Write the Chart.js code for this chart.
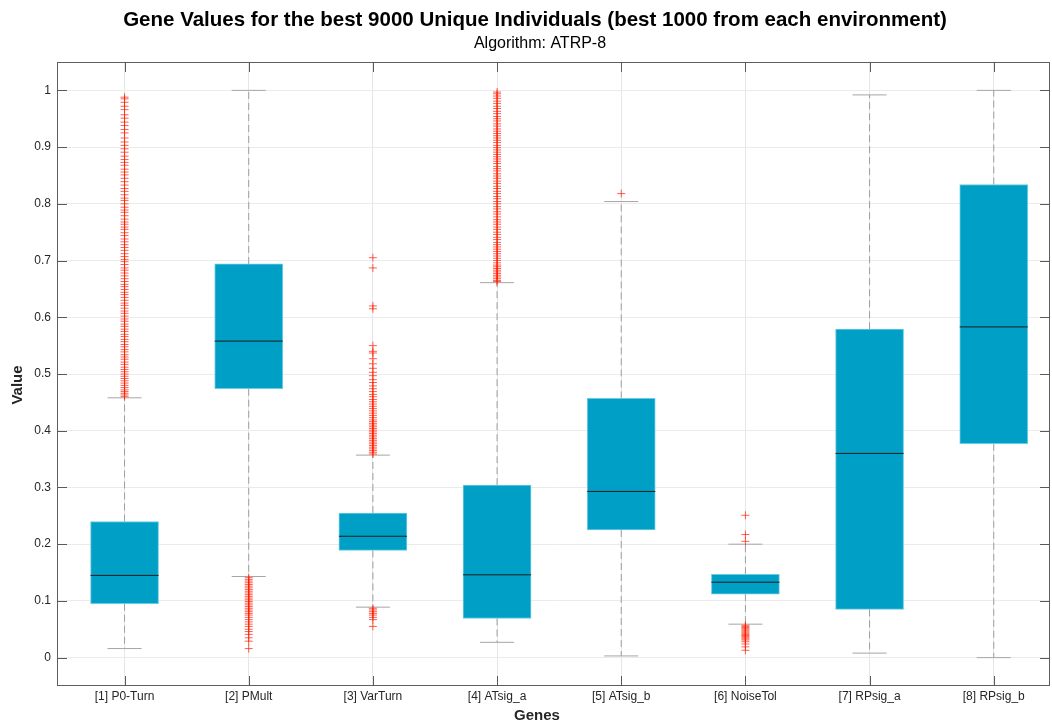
<!DOCTYPE html>
<html>
<head>
<meta charset="utf-8">
<script src="https://cdn.jsdelivr.net/npm/chart.js@4.4.0/dist/chart.umd.min.js"></script>
<style>
  html, body { margin: 0; padding: 0; background: #ffffff; }
  #wrap { width: 1052px; height: 724px; }
</style>
</head>
<body>
<div id="wrap"><canvas id="chart" width="1052" height="724"></canvas></div>
<script>
// ---- chart text ----
const titleText = 'Gene Values for the best 9000 Unique Individuals (best 1000 from each environment)';
const subtitleText = 'Algorithm: ATRP-8';
const xTitle = 'Genes';
const yTitle = 'Value';

// ---- categories ----
const genes = ['[1] P0-Turn', '[2] PMult', '[3] VarTurn', '[4] ATsig_a',
               '[5] ATsig_b', '[6] NoiseTol', '[7] RPsig_a', '[8] RPsig_b'];

// ---- box statistics per gene ----
const q1      = [0.095, 0.474, 0.189, 0.069, 0.225, 0.112, 0.085, 0.377];
const median  = [0.145, 0.558, 0.214, 0.146, 0.293, 0.133, 0.360, 0.583];
const q3      = [0.240, 0.694, 0.255, 0.304, 0.457, 0.147, 0.579, 0.834];
const whiskLo = [0.016, 0.143, 0.089, 0.027, 0.003, 0.059, 0.008, 0.000];
const whiskHi = [0.458, 1.000, 0.357, 0.661, 0.804, 0.200, 0.992, 1.000];

// ---- outliers per gene ----
const outP0Turn = [0.988, 0.985, 0.979, 0.972, 0.966, 0.957, 0.951, 0.944, 0.938, 0.931,
  0.925, 0.916, 0.909, 0.903, 0.897, 0.891, 0.884, 0.878, 0.873, 0.868, 0.861, 0.856,
  0.851, 0.845, 0.839, 0.833, 0.827, 0.822, 0.816, 0.81, 0.806, 0.8, 0.794, 0.789,
  0.785, 0.779, 0.773, 0.768, 0.764, 0.759, 0.755, 0.749, 0.744, 0.738, 0.733, 0.728,
  0.723, 0.718, 0.712, 0.707, 0.702, 0.698, 0.693, 0.687, 0.683, 0.678, 0.673, 0.668,
  0.663, 0.658, 0.654, 0.649, 0.644, 0.64, 0.635, 0.63, 0.625, 0.621, 0.616, 0.611,
  0.607, 0.602, 0.597, 0.593, 0.588, 0.584, 0.579, 0.575, 0.57, 0.566, 0.561, 0.557,
  0.552, 0.548, 0.543, 0.539, 0.534, 0.53, 0.526, 0.521, 0.517, 0.512, 0.508, 0.504,
  0.5, 0.496, 0.492, 0.488, 0.484, 0.48, 0.476, 0.472, 0.469, 0.466, 0.463, 0.46];
const outPMult = [0.141, 0.138, 0.135, 0.132, 0.129, 0.126, 0.123, 0.12, 0.117, 0.114,
  0.111, 0.108, 0.105, 0.102, 0.099, 0.096, 0.093, 0.09, 0.087, 0.084, 0.081, 0.078,
  0.075, 0.071, 0.067, 0.063, 0.059, 0.055, 0.05, 0.046, 0.041, 0.035, 0.029, 0.016];
const outVarTurn = [0.705, 0.687, 0.62, 0.615, 0.55, 0.54, 0.537, 0.527, 0.518, 0.51,
  0.503, 0.497, 0.49, 0.485, 0.479, 0.474, 0.469, 0.464, 0.46, 0.455, 0.451, 0.447,
  0.443, 0.439, 0.435, 0.431, 0.427, 0.423, 0.419, 0.416, 0.413, 0.41, 0.407, 0.404,
  0.401, 0.398, 0.395, 0.392, 0.389, 0.386, 0.383, 0.38, 0.377, 0.374, 0.371, 0.368,
  0.365, 0.362, 0.359,
  0.087, 0.084, 0.081, 0.078, 0.075, 0.071, 0.067, 0.055];
const outATsigA = [0.997, 0.994, 0.99, 0.986, 0.981, 0.977, 0.972, 0.968, 0.963, 0.959,
  0.954, 0.95, 0.946, 0.941, 0.937, 0.932, 0.928, 0.924, 0.92, 0.916, 0.912, 0.908,
  0.903, 0.899, 0.895, 0.891, 0.887, 0.883, 0.879, 0.875, 0.871, 0.866, 0.862, 0.858,
  0.853, 0.849, 0.845, 0.84, 0.836, 0.831, 0.827, 0.822, 0.818, 0.813, 0.809, 0.804,
  0.8, 0.795, 0.791, 0.786, 0.782, 0.777, 0.772, 0.768, 0.764, 0.759, 0.755, 0.75,
  0.746, 0.741, 0.737, 0.732, 0.728, 0.724, 0.72, 0.716, 0.712, 0.708, 0.704, 0.7,
  0.696, 0.692, 0.689, 0.686, 0.683, 0.68, 0.677, 0.674, 0.671, 0.668, 0.665, 0.663];
const outATsigB = [0.818];
const outNoiseTol = [0.251, 0.217, 0.205,
  0.057, 0.055, 0.053, 0.051, 0.049, 0.047, 0.045, 0.043, 0.041, 0.039, 0.037, 0.035,
  0.033, 0.031, 0.028, 0.024, 0.019, 0.013];
const outRPsigA = [];
const outRPsigB = [];
const outliers = [outP0Turn, outPMult, outVarTurn, outATsigA, outATsigB, outNoiseTol, outRPsigA, outRPsigB];

// ---- axis ticks ----
const yTicks = [0, 0.1, 0.2, 0.3, 0.4, 0.5, 0.6, 0.7, 0.8, 0.9, 1];
const yRange = [-0.05, 1.05];
const xRange = [0.456, 8.453];

const FONT = '"Liberation Sans", Arial, Helvetica, sans-serif';

// ---- datasets ----
const boxData = genes.map((g, i) => ({ x: i + 1, y: [q1[i], q3[i]] }));
const medianData = genes.map((g, i) => ({ x: i + 1, y: median[i] }));
const capData = [];
const whiskerData = [];
genes.forEach((g, i) => {
  capData.push({ x: i + 1, y: whiskLo[i] }, { x: i + 1, y: whiskHi[i] });
  whiskerData.push({ x: i + 1, y: q3[i] }, { x: i + 1, y: whiskHi[i] }, { x: i + 1, y: null });
  whiskerData.push({ x: i + 1, y: q1[i] }, { x: i + 1, y: whiskLo[i] }, { x: i + 1, y: null });
});
const outlierData = [];
outliers.forEach((list, i) => list.forEach(v => outlierData.push({ x: i + 1, y: v })));

// titles, frame and inward tick marks
const decorations = {
  id: 'decorations',
  afterDraw(chart) {
    const { ctx, chartArea: a, scales } = chart;
    ctx.save();
    // frame
    ctx.strokeStyle = '#5e5e5e';
    ctx.lineWidth = 1;
    ctx.strokeRect(Math.round(a.left) + 0.5, Math.round(a.top) + 0.5,
                   Math.round(a.right - a.left) - 1, Math.round(a.bottom - a.top) - 1);
    // inward ticks
    ctx.strokeStyle = '#5a5a5a';
    ctx.beginPath();
    yTicks.forEach(v => {
      const y = Math.round(scales.y.getPixelForValue(v)) + 0.5;
      ctx.moveTo(a.left, y); ctx.lineTo(a.left + 10, y);
      ctx.moveTo(a.right, y); ctx.lineTo(a.right - 10, y);
    });
    genes.forEach((g, i) => {
      const x = Math.round(scales.x.getPixelForValue(i + 1)) + 0.5;
      ctx.moveTo(x, a.bottom); ctx.lineTo(x, a.bottom - 10);
      ctx.moveTo(x, a.top); ctx.lineTo(x, a.top + 10);
    });
    ctx.stroke();
    // titles
    ctx.fillStyle = '#000000';
    ctx.textAlign = 'center';
    ctx.textBaseline = 'middle';
    ctx.font = 'bold 20.5px ' + FONT;
    ctx.fillText(titleText, 535, 20);
    ctx.font = '16px ' + FONT;
    ctx.fillText(subtitleText, 540, 44);
    ctx.fillStyle = '#262626';
    ctx.font = 'bold 15px ' + FONT;
    ctx.fillText(xTitle, 537, 716);
    ctx.translate(18, 385);
    ctx.rotate(-Math.PI / 2);
    ctx.fillText(yTitle, 0, 0);
    ctx.restore();
  }
};

new Chart(document.getElementById('chart'), {
  type: 'scatter',
  data: {
    datasets: [
      {
        type: 'scatter', data: outlierData, order: 1,
        pointStyle: 'cross', pointRadius: 4, pointHoverRadius: 4,
        borderColor: 'rgba(255, 30, 0, 0.7)', backgroundColor: 'rgba(255, 30, 0, 0.7)',
        pointBorderWidth: 1
      },
      {
        type: 'scatter', data: medianData, order: 2,
        pointStyle: 'line', pointRadius: 34, pointHoverRadius: 34,
        borderColor: '#1b1b1b', pointBorderWidth: 1
      },
      {
        type: 'scatter', data: capData, order: 3,
        pointStyle: 'line', pointRadius: 17, pointHoverRadius: 17,
        borderColor: '#a5a5a5', pointBorderWidth: 1
      },
      {
        type: 'bar', data: boxData, order: 4,
        backgroundColor: '#00a0c6', borderColor: '#6ccbe2', borderWidth: 1,
        borderSkipped: false, barThickness: 68
      },
      {
        type: 'line', data: whiskerData, order: 5,
        borderColor: '#9e9e9e', borderWidth: 1, borderDash: [7, 4],
        pointRadius: 0, spanGaps: false, fill: false
      }
    ]
  },
  options: {
    responsive: false,
    animation: false,
    devicePixelRatio: 1,
    layout: { autoPadding: false, padding: { top: 62, right: 2, left: 0, bottom: 0 } },
    plugins: { legend: { display: false }, tooltip: { enabled: false }, title: { display: false } },
    scales: {
      x: {
        type: 'linear', min: xRange[0], max: xRange[1], offset: false,
        afterFit(s) { s.height = 38; s.paddingLeft = 0; s.paddingRight = 0; },
        afterBuildTicks(s) { s.ticks = genes.map((g, i) => ({ value: i + 1 })); },
        ticks: {
          autoSkip: false, maxRotation: 0, padding: 3,
          color: '#262626', font: { family: FONT, size: 12 },
          callback: v => genes[Math.round(v) - 1]
        },
        grid: { color: '#e6e6e6', drawTicks: false, offset: false },
        border: { display: false }
      },
      y: {
        type: 'linear', min: yRange[0], max: yRange[1],
        afterFit(s) { s.width = 57; s.paddingTop = 0; s.paddingBottom = 0; },
        afterBuildTicks(s) { s.ticks = yTicks.map(v => ({ value: v })); },
        ticks: {
          padding: 6, color: '#262626', font: { family: FONT, size: 12 },
          callback: v => String(+v.toFixed(2))
        },
        grid: { color: '#ebebeb', drawTicks: false },
        border: { display: false }
      }
    }
  },
  plugins: [decorations]
});
</script>
</body>
</html>
